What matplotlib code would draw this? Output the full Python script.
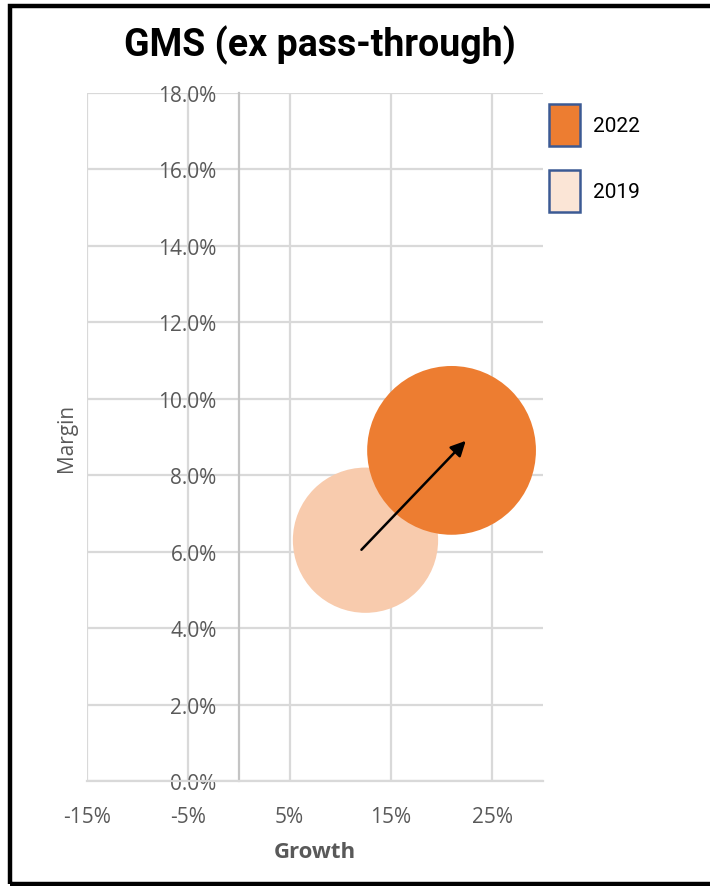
import matplotlib
matplotlib.use("Agg")
import matplotlib.pyplot as plt
from matplotlib.patches import Rectangle
from matplotlib.ticker import FuncFormatter, FixedLocator

# Bubble data: growth (%), margin (%), relative bubble size
years = ["2019", "2022"]
growth = [12.5, 21.0]
margin = [6.3, 8.65]
bubble_size = [100, 135]

# Movement arrow (growth, margin) from start to tip
arrow_start = (12.1, 6.05)
arrow_end = (22.4, 8.9)

x_ticks = [-15, -5, 5, 15, 25]
y_ticks = [0, 2, 4, 6, 8, 10, 12, 14, 16, 18]

title = "GMS (ex pass-through)"
x_label = "Growth"
y_label = "Margin"

bubble_colors = {"2019": "#F8CBAD", "2022": "#ED7D31"}
legend_colors = {"2022": "#ED7D31", "2019": "#FBE5D6"}

W, H, DPI = 710, 887, 100
fig = plt.figure(figsize=(W / DPI, H / DPI), dpi=DPI)
fig.patch.set_facecolor("white")

ax_left, ax_right, ax_top, ax_bottom = 87, 542.7, 94, 782
ax = fig.add_axes([ax_left / W, 1 - ax_bottom / H,
                   (ax_right - ax_left) / W, (ax_bottom - ax_top) / H])
ax.set_xlim(-15, 30)
ax.set_ylim(0, 18)

grid_c = "#D9D9D9"
ax.xaxis.set_major_locator(FixedLocator(x_ticks))
ax.yaxis.set_major_locator(FixedLocator(y_ticks))
ax.grid(True, color=grid_c, linewidth=1.6, zorder=0)
ax.set_axisbelow(True)

for s in ["top", "right"]:
    ax.spines[s].set_visible(False)
ax.spines["left"].set_position(("data", 0))
ax.spines["left"].set_color("#C4C4C4")
ax.spines["left"].set_linewidth(1.6)
ax.spines["bottom"].set_color(grid_c)
ax.spines["bottom"].set_linewidth(1.6)

ax.xaxis.set_major_formatter(FuncFormatter(lambda v, p: f"{v:.0f}%"))
ax.yaxis.set_major_formatter(FuncFormatter(lambda v, p: f"{v:.1f}%"))
ax.tick_params(axis="both", length=0, labelsize=15, labelcolor="#595959")
ax.tick_params(axis="y", pad=16)
ax.tick_params(axis="x", pad=18)
for lab in ax.get_xticklabels() + ax.get_yticklabels():
    lab.set_fontfamily("Open Sans")

# Bubbles: area proportional to size value
scale = 14768 / 135
for yr, gx, my, sz in zip(years, growth, margin, bubble_size):
    ax.scatter(gx, my, s=sz * scale, color=bubble_colors[yr], edgecolors="none",
               zorder=3, clip_on=False)

ax.annotate("", xy=arrow_end, xytext=arrow_start,
            arrowprops=dict(arrowstyle="-|>,head_length=0.9,head_width=0.45",
                            color="black", lw=1.8, shrinkA=0, shrinkB=0),
            zorder=5)

ax_w = ax_right - ax_left
ax_h = ax_bottom - ax_top
ax.set_xlabel(x_label, fontsize=16, fontweight="bold", color="#595959",
              family="Open Sans")
ax.xaxis.set_label_coords(0.5, -(842 - ax_bottom) / ax_h)
ax.set_ylabel(y_label, fontsize=15, color="#595959", family="Open Sans")
ax.yaxis.set_label_coords((77 - ax_left) / ax_w, (ax_bottom - 438) / ax_h)

fig.text(320 / W, 1 - 45 / H, title, ha="center", va="center", fontsize=27,
         fontweight="bold", family="Roboto", color="black")

# Legend drawn in figure coordinates
for i, yr in enumerate(["2022", "2019"]):
    top = 105 + i * 66
    fig.patches.append(Rectangle((549 / W, 1 - (top + 42) / H), 31 / W, 42 / H,
                                 transform=fig.transFigure, facecolor=legend_colors[yr],
                                 edgecolor="#3C5A94", linewidth=1.8))
    fig.text(593 / W, 1 - (top + 22) / H, yr, ha="left", va="center",
             fontsize=15, family="Roboto", color="black")

# Outer frame
fig.patches.append(Rectangle((10 / W, 1 - 885 / H), (W + 20) / W, (885 - 7) / H,
                             transform=fig.transFigure, fill=False,
                             edgecolor="black", linewidth=3.2))

fig.savefig("out.png", dpi=DPI)
